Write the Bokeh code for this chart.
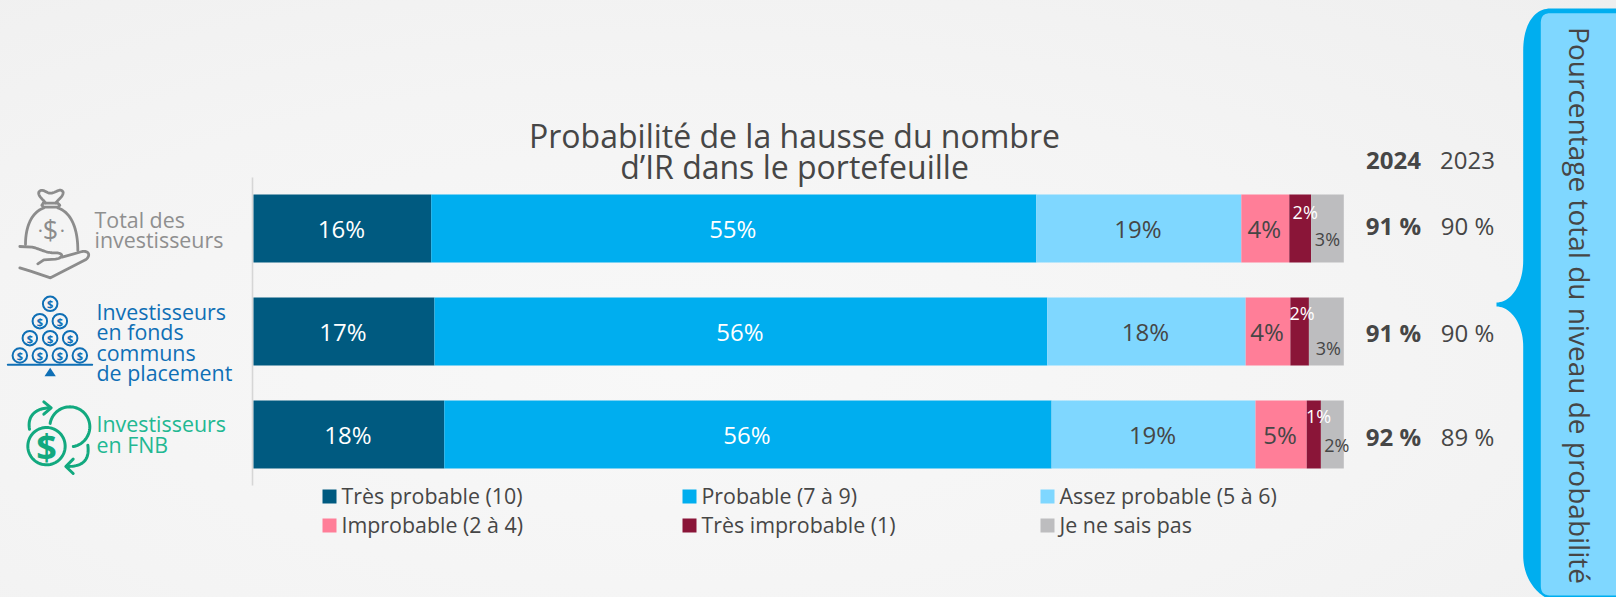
import numpy as np
from bokeh.plotting import figure
from bokeh.models import ColumnDataSource, Range1d
from bokeh.core.properties import value
from bokeh.embed import file_html
from bokeh.resources import INLINE

# ---------- data ----------
groups = ["Total des investisseurs", "Investisseurs en fonds communs de placement", "Investisseurs en FNB"]
series = ["Très probable (10)", "Probable (7 à 9)", "Assez probable (5 à 6)",
          "Improbable (2 à 4)", "Très improbable (1)", "Je ne sais pas"]
tres_probable = [16.3, 16.6, 17.5]
probable = [55.5, 56.2, 55.7]
assez_probable = [18.8, 18.2, 18.7]
improbable = [4.4, 4.1, 4.7]
tres_improbable = [2.0, 1.7, 1.3]
ne_sais_pas = [3.0, 3.2, 2.1]
labels_tres_probable = ["16%", "17%", "18%"]
labels_probable = ["55%", "56%", "56%"]
labels_assez_probable = ["19%", "18%", "19%"]
labels_improbable = ["4%", "4%", "5%"]
labels_tres_improbable = ["2%", "2%", "1%"]
labels_ne_sais_pas = ["3%", "3%", "2%"]
totals_2024 = ["91 %", "91 %", "92 %"]
totals_2023 = ["90 %", "90 %", "89 %"]
colors = ["#005A80", "#00AEEF", "#7FD7FF", "#FF7E98", "#8A1538", "#BDBDBF"]

# ---------- layout ----------
W, H = 1616, 597
FONT = value("Open Sans")
DARK = "#464646"
X0, X100 = 253.0, 1343.3
ROW0, ROWSTEP, BARH = 228.0, 103.0, 68.0
k = 100.0 / (X100 - X0)

p = figure(width=W, height=H, output_backend="svg", toolbar_location=None,
           x_range=Range1d(0, W), y_range=Range1d(H, 0),
           min_border=0, x_axis_location=None, y_axis_location=None,
           background_fill_alpha=0, border_fill_alpha=0, outline_line_color=None,
           styles={"background": "radial-gradient(ellipse at 42% 62%, #F8F8F8 0%, #F4F4F4 55%, #EFEFEF 100%)"})
p.grid.visible = False
p.extra_x_ranges["pct"] = Range1d(-X0 * k, (W - X0) * k)
p.extra_y_ranges["row"] = Range1d((H - ROW0) / ROWSTEP, -ROW0 / ROWSTEP)


def txt(x, y, s, color=DARK, size=20, align="left", style="normal", base="middle", angle=0):
    p.text([x], [y], text=[s], text_color=color, text_font=FONT, text_font_size=f"{size}px",
           text_align=align, text_baseline=base, text_font_style=style, angle=angle)


def cubic(a, b, c, d, n=24):
    t = np.linspace(0, 1, n)[:, None]
    a, b, c, d = map(np.array, (a, b, c, d))
    return (1 - t) ** 3 * a + 3 * (1 - t) ** 2 * t * b + 3 * (1 - t) * t ** 2 * c + t ** 3 * d


# axis line
p.segment([252], [177], [252], [485], line_color="#D6D6D6", line_width=1.6)

# ---------- stacked bars ----------
rows = list(range(len(groups)))
all_values = [tres_probable, probable, assez_probable, improbable, tres_improbable, ne_sais_pas]
all_labels = [labels_tres_probable, labels_probable, labels_assez_probable,
              labels_improbable, labels_tres_improbable, labels_ne_sais_pas]
label_colors = ["white", "white", DARK, DARK, "white", DARK]
label_sizes = [24, 24, 24, 24, 18, 18]
dx_off = [[-1, -1, -1], [-1, -1, -1], [-1, -1, -1], [-1, -1, -1], [5, 2.5, 4.7], [0, 2, 4.5]]
dy_off = [[0, 0, 0], [0, 0, 0], [0, 0, 0], [0, 0, 0], [-17, -19, -19], [10, 16, 10]]
left = np.zeros(3)
sources = []
for vals, labs, col, dx, dy in zip(all_values, all_labels, colors, dx_off, dy_off):
    right = left + np.array(vals)
    src = ColumnDataSource(dict(y=rows, left=left, right=right, mid=(left + right) / 2, lab=labs, dx=dx, dy=dy))
    sources.append(src)
    p.hbar(y="y", left="left", right="right", height=BARH / ROWSTEP, fill_color=col, line_color=None,
           source=src, x_range_name="pct", y_range_name="row")
    left = right
for src, lc, ls in zip(sources, label_colors, label_sizes):
    p.text(x="mid", y="y", text="lab", source=src, x_offset="dx", y_offset="dy", text_color=lc, text_font=FONT,
           text_font_size=f"{ls}px", text_align="center", text_baseline="middle",
           x_range_name="pct", y_range_name="row")

# ---------- title ----------
txt(794, 135, "Probabilité de la hausse du nombre", size=32, align="center")
txt(794, 166, "d’IR dans le portefeuille", size=32, align="center")

# ---------- totals ----------
txt(1393, 160, "2024", size=24, align="center", style="bold")
txt(1467, 160, "2023", size=24, align="center")
for vals_tot, xpos, st in ((totals_2024, 1393, "bold"), (totals_2023, 1467, "normal")):
    p.text(x=[xpos] * 3, y=[225, 332, 436], text=vals_tot, text_color=DARK, text_font=FONT,
           text_font_size="24px", text_align="center", text_baseline="middle", text_font_style=st)

# ---------- legend ----------
leg_x = [322, 682, 1040]
leg_y = [496, 525]
for i, (name, col) in enumerate(zip(series, colors)):
    x, y = leg_x[i % 3], leg_y[i // 3]
    p.rect([x + 7], [y], width=14, height=14, fill_color=col, line_color=None)
    txt(x + 19, y - 1, name, size=21.4)

# ---------- row labels ----------
GRAY, BLUE, GREEN = "#8F8F8F", "#0F6FB5", "#22B892"
txt(94, 219, "Total des", GRAY, 21.4, base="alphabetic")
txt(94, 239, "investisseurs", GRAY, 21.4, base="alphabetic")
for y, s in zip((311, 331, 352, 372), ("Investisseurs", "en fonds", "communs", "de placement")):
    txt(96, y, s, BLUE, 21.4, base="alphabetic")
txt(96, 423, "Investisseurs", GREEN, 21.4, base="alphabetic")
txt(96, 444, "en FNB", GREEN, 21.4, base="alphabetic")


# ---------- icons (zoom-grid helper: z coords are 3x from an origin) ----------
def zline(pts, ox, oy, color, w=2.4):
    a = np.array(pts, float)
    p.line(ox + a[:, 0] / 3, oy + a[:, 1] / 3, line_color=color, line_width=w,
           line_join="round", line_cap="round")


BAG = "#8C8C8C"
OX, OY = 0, 170
zline(np.vstack([cubic((135, 97), (125, 85), (112, 75), (115, 65)), cubic((115, 65), (125, 50), (140, 70), (150, 68)),
                 cubic((150, 68), (165, 68), (180, 50), (188, 65)), cubic((188, 65), (188, 78), (175, 85), (166, 97))]), OX, OY, BAG, 2.8)
zline([(128, 98), (172, 98), (178, 104), (172, 110), (130, 110), (124, 104), (128, 98)], OX, OY, BAG, 2.8)
zline(cubic((130, 112), (95, 125), (75, 165), (75, 222)), OX, OY, BAG, 2.8)
zline(cubic((172, 112), (210, 125), (232, 170), (232, 240)), OX, OY, BAG, 2.8)
zline(np.vstack([[(58, 228), (95, 230)], cubic((95, 230), (120, 235), (135, 248), (165, 247)),
                 cubic((165, 247), (190, 247), (190, 262), (165, 266)), [(165, 266), (130, 268), (112, 280)]]), OX, OY, BAG, 2.8)
zline(np.vstack([[(185, 260), (245, 243)], cubic((245, 243), (265, 240), (272, 255), (255, 268)),
                 [(255, 268), (150, 322), (90, 302), (58, 292)]]), OX, OY, BAG, 2.8)
txt(50, 229, "$", BAG, 27, align="center")
txt(40, 230, "·", BAG, 20, align="center")
txt(62, 230, "·", BAG, 20, align="center")

coin_z = [(149, 400), (118, 452), (178, 452), (88, 503), (149, 503), (209, 503), (58, 555), (118, 555), (178, 555), (238, 555)]
for zx, zy in coin_z:
    x, y = zx / 3, 170 + zy / 3
    p.scatter([x], [y], marker="circle", size=14.5, fill_color=None, line_color=BLUE, line_width=2)
    txt(x, y, "$", BLUE, 11, align="center", style="bold")
zline([(22, 583), (275, 583)], 0, 170, BLUE, 2)
tri = np.array([(149, 592), (132, 617), (166, 617)], float)
p.patch(tri[:, 0] / 3, 170 + tri[:, 1] / 3, fill_color=BLUE, line_color=None)

FG = "#12A97F"
OX, OY = 10, 392
th = np.linspace(0, 2 * np.pi, 70)
zline(np.c_[108 + 56 * np.cos(th), 161 + 56 * np.sin(th)], OX, OY, FG, 3)
th = np.radians(np.linspace(190, 450 - 10, 60))
zline(np.c_[178 + 60 * np.cos(th), 103 + 60 * np.sin(th)], OX, OY, FG, 3)
zline(cubic((57, 110), (50, 70), (75, 48), (115, 46)), OX, OY, FG, 3)
zline([(100, 28), (122, 46), (100, 65)], OX, OY, FG, 3)
zline(cubic((232, 158), (238, 205), (215, 222), (170, 222)), OX, OY, FG, 3)
zline([(188, 200), (166, 222), (188, 243)], OX, OY, FG, 3)
txt(10 + 108 / 3, 392 + 161 / 3, "$", FG, 36, align="center", style="bold")

# ---------- right brace ----------
OUT = "#00AEEF"
L, R, TOP, BOT = 1522.7, 1620.0, 8.0, 597.0
TIPX, TIPY = 1496.0, 304.0
pts = np.vstack([
    [(R, TOP), (1550, TOP)],
    cubic((1550, TOP), (1533, TOP), (L, 25), (L, 50)),
    [(L, 260)],
    cubic((L, 260), (L, 285), (1510, 302), (TIPX, TIPY - 2)),
    cubic((TIPX, TIPY + 2), (1510, 306), (L, 323), (L, 346)),
    [(L, 555)],
    cubic((L, 555), (L, 575), (1533, 590), (1545, BOT)),
    [(R, BOT)],
])
p.patch(pts[:, 0], pts[:, 1], fill_color=OUT, line_color=None)
IL, IT, IB, r = 1540.3, 12.7, 595.0, 10.0
pts = np.vstack([
    [(R, IT), (IL + r, IT)],
    cubic((IL + r, IT), (IL + 3, IT), (IL, IT + 3), (IL, IT + r)),
    [(IL, IB - r)],
    cubic((IL, IB - r), (IL, IB - 3), (IL + 3, IB), (IL + r, IB)),
    [(R, IB)],
])
p.patch(pts[:, 0], pts[:, 1], fill_color="#7FD7FF", line_color=None)
txt(1579, 305, "Pourcentage total du niveau de probabilité", size=28, align="center", angle=-np.pi / 2)

open("out.html", "w").write(file_html(p, INLINE))
